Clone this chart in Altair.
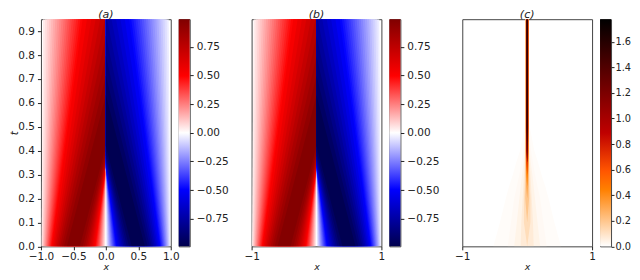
import altair as alt
import pandas as pd

# Panels (a), (b): contour levels of u on x<0; x>0 is the mirror image with -u.
levels = [.025,.05,.075,.1,.125,.15,.175,.2,.225,.25,.275,.3,.325,.35,.375,.4,.425,.45,.475,.5,
          .55,.6,.65,.7,.75,.8,.85,.9,.95]
fills = [.0375,.0625,.0875,.1125,.1375,.1625,.1875,.2125,.2375,.2625,.2875,.3125,.3375,.3625,.3875,.4125,.4375,.4625,.4875,.525,
         .575,.625,.675,.725,.775,.825,.875,.925,.975]
outer_0 = [-.992,-.984,-.976,-.968,-.960,-.952,-.944,-.936,-.928,-.920,-.911,-.903,-.895,-.886,-.878,-.869,-.860,-.851,-.842,-.833,
           -.815,-.795,-.775,-.753,-.730,-.705,-.677,-.644,-.601]
inner_0 = [-.008,-.016,-.024,-.032,-.040,-.048,-.056,-.064,-.072,-.080,-.089,-.097,-.105,-.114,-.122,-.131,-.140,-.149,-.158,-.167,
           -.185,-.205,-.225,-.247,-.270,-.295,-.323,-.356,-.399]
t_hit = [.318,.318,.319,.319,.319,.320,.320,.320,.321,.322,.322,.323,.324,.325,.326,.327,.329,.330,.332,.333,
         .337,.341,.346,.353,.360,.369,.380,.396,.420]
outer_hit = [-.984,-.968,-.952,-.936,-.920,-.904,-.888,-.872,-.856,-.839,-.823,-.806,-.789,-.772,-.755,-.738,-.721,-.703,-.685,-.667,
             -.629,-.590,-.550,-.506,-.460,-.410,-.353,-.287,-.202]
t_top = [.95]*25 + [.881,.796,.715,.633]
outer_top = [-.968,-.937,-.905,-.873,-.841,-.810,-.778,-.746,-.714,-.682,-.650,-.618,-.586,-.554,-.522,-.489,-.456,-.424,-.391,-.358,
             -.292,-.225,-.157,-.088,-.018,0,0,0,0]

# Panel (c): half-width of each level of the error field at these times.
c_times = [0,.1,.2,.25,.3,.35,.4,.5,.6,.95]
c_levels = [.01,.02,.04,.07,.12,.2,.3,.45,.7,1.0,1.3,1.6]
c_widths = [
    [.52,.42,.33,.28,.22,.17,.11,.04,.024,.024],
    [.30,.25,.20,.16,.12,.09,.06,.03,.024,.024],
    [.20,.16,.12,.10,.08,.055,.04,.025,.024,.024],
    [.10,.09,.07,.06,.05,.04,.03,.024,.024,.024],
    [0,.05,.05,.04,.035,.028,.025,.024,.024,.024],
    [0,0,.03,.028,.025,.024,.024,.024,.024,.024],
    [0,0,0,.015,.02,.023,.023,.023,.023,.023],
    [0,0,0,0,.012,.018,.021,.021,.021,.021],
    [0,0,0,0,0,.012,.017,.019,.019,.019],
    [0,0,0,0,0,0,.012,.016,.016,.016],
    [0,0,0,0,0,0,.008,.012,.012,.012],
    [0,0,0,0,0,0,0,.008,.009,.009],
]

u_max = .99
c_max = 1.777
seismic_dom = [-.99,-.495,0,.495,.99]
seismic_col = ['#00004d','#0000ff','#ffffff','#ff0000','#800000']
heat_dom = [0,.444,.592,.888,1.777]
heat_col = ['#ffffff','#ff8000','#ff5500','#bf0000','#000000']
u_ticks = [-.75,-.5,-.25,0,.25,.5,.75]
c_ticks = [0,.2,.4,.6,.8,1,1.2,1.4,1.6]
t_ticks = [0,.1,.2,.3,.4,.5,.6,.7,.8,.9]

rows = []
band = 0
for sign in (1, -1):
    for i in range(len(levels)):
        pts = [(0, outer_0[i], inner_0[i]),
               (t_hit[i], outer_hit[i], 0),
               (t_top[i], outer_top[i], 0)]
        for t, a, b in pts:
            rows.append({"band": band, "t": t,
                         "x1": a if sign == 1 else -b,
                         "x2": b if sign == 1 else -a,
                         "u": sign * fills[i]})
        band += 1
u_df = pd.DataFrame(rows)

rows = []
for j, lev in enumerate(c_levels):
    for t, w in zip(c_times, c_widths[j]):
        rows.append({"band": j, "t": t, "x1": -w, "x2": w, "u": lev})
c_df = pd.DataFrame(rows)

W, H = 130, 227.5
F = "DejaVu Sans"
FS = 10.5


def panel(df, title, dom, col, xvals, xfmt, yaxis):
    x_ax = alt.Axis(values=xvals, format=xfmt, title="x", titleFontStyle="italic", titleFont=F,
                    titleFontWeight="normal", titleFontSize=9.5, labelFontSize=FS, labelFont=F,
                    tickSize=3.5, labelPadding=1.5, titlePadding=0, domain=False, grid=False,
                    labelFlush=False, labelColor="#222", tickColor="#222", titleColor="#222")
    if yaxis:
        y_enc = alt.Y("t:Q", scale=alt.Scale(domain=[0, .95], nice=False),
                      axis=alt.Axis(values=t_ticks, format=".1f", title="t", titleFontStyle="italic",
                                    titleFont=F, titleFontWeight="normal", titleFontSize=FS,
                                    labelFontSize=FS, labelFont=F, tickSize=3.5, labelPadding=3,
                                    titlePadding=-1.5, domain=False, grid=False, labelFlush=False,
                                    labelColor="#222", tickColor="#222", titleColor="#222"))
    else:
        y_enc = alt.Y("t:Q", scale=alt.Scale(domain=[0, .95], nice=False), axis=None)
    return (alt.Chart(df, width=W, height=H,
                      title=alt.TitleParams(title, font=F, fontSize=11, fontStyle="italic",
                                            fontWeight="normal", offset=-1, color="#222"))
            .mark_area(orient="horizontal", clip=True, interpolate="linear")
            .encode(x=alt.X("x1:Q", scale=alt.Scale(domain=[-1, 1], nice=False), axis=x_ax),
                    x2="x2:Q", y=y_enc,
                    detail="band:O",
                    color=alt.Color("u:Q", legend=None,
                                    scale=alt.Scale(domain=dom, range=col, interpolate="rgb"))))


def cbar(lo, hi, dom, col, ticks, fmt, fs, pad, tick):
    span = dom[-1] - dom[0]
    stops = [alt.GradientStop(offset=(d - dom[0]) / span, color=c) for d, c in zip(dom, col)]
    return (alt.Chart(pd.DataFrame({"lo": [lo], "hi": [hi]}), width=11, height=H)
            .mark_rect(color=alt.Gradient(gradient="linear", x1=0, x2=0, y1=1, y2=0, stops=stops))
            .encode(x=alt.value(0), x2=alt.value(11),
                    y=alt.Y("lo:Q", scale=alt.Scale(domain=[lo, hi], nice=False),
                            axis=alt.Axis(orient="right", values=ticks, format=fmt, title=None,
                                          labelFontSize=fs, labelFont=F, tickSize=tick, labelPadding=pad,
                                          domain=False, grid=False, labelFlush=False,
                                          labelColor="#222", tickColor="#222")),
                    y2="hi:Q"))


def spacer():
    return (alt.Chart(pd.DataFrame({"v": [0]}), width=46, height=H, view=alt.ViewConfig(stroke=None))
            .mark_rect(opacity=0).encode(x=alt.value(0), x2=alt.value(1)))


chart = alt.hconcat(
    panel(u_df, "(a)", seismic_dom, seismic_col, [-1, -.5, 0, .5, 1], ".1f", True),
    cbar(-u_max, u_max, seismic_dom, seismic_col, u_ticks, ".2f", FS, 3, 3.5),
    spacer(),
    panel(u_df, "(b)", seismic_dom, seismic_col, [-1, 0, 1], "d", False),
    cbar(-u_max, u_max, seismic_dom, seismic_col, u_ticks, ".2f", FS, 3, 3.5),
    spacer(),
    panel(c_df, "(c)", heat_dom, heat_col, [-1, 0, 1], "d", False),
    cbar(0, c_max, heat_dom, heat_col, c_ticks, ".1f", 9.8, 1, 3),
    spacing=8, bounds="flush",
).resolve_scale(color="independent", y="independent", x="independent"
).configure_view(stroke="#444", strokeWidth=1).properties(padding={"left": 0, "top": 0, "right": 0, "bottom": 0},
                                                          background="white")

chart.save("out.html", embed_options={"renderer": "svg", "actions": False})
